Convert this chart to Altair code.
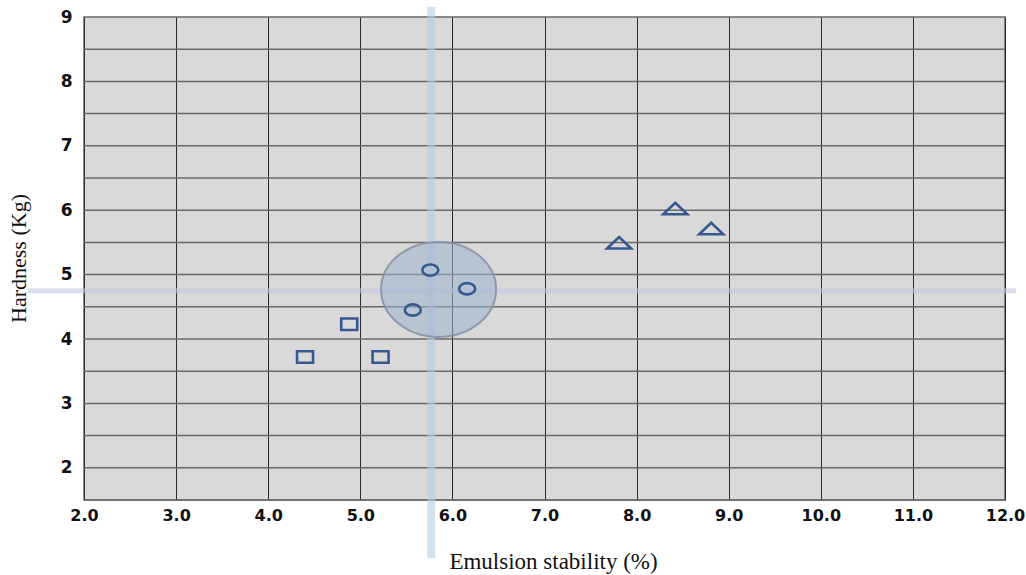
import altair as alt
import pandas as pd

# data
sq_x = [4.40, 4.88, 5.22]
sq_y = [3.72, 4.23, 3.72]
ci_x = [5.76, 6.16, 5.57]
ci_y = [5.07, 4.78, 4.45]
tr_x = [7.81, 8.42, 8.81]
tr_y = [5.49, 6.02, 5.71]
center_x = 5.85
center_y = 4.77
cross_x = 5.77
cross_y = 4.75
vband_y = [0.60, 9.16]
hband_x = [1.39, 12.12]

x_ticks = [2, 3, 4, 5, 6, 7, 8, 9, 10, 11, 12]
y_ticks = [2, 3, 4, 5, 6, 7, 8, 9]
y_grid = [1.5, 2, 2.5, 3, 3.5, 4, 4.5, 5, 5.5, 6, 6.5, 7, 7.5, 8, 8.5]

MARK = "#35598f"
SQUARE = "M -1 -0.72 L 1 -0.72 L 1 0.72 L -1 0.72 Z"
ELLIPSE = "M -1 0 A 1 0.7 0 1 0 1 0 A 1 0.7 0 1 0 -1 0 Z"
TRIANGLE = "M -1 0.45 L 0 -0.5 L 1 0.45 Z"
BIG = "M -1 0 A 1 0.826 0 1 0 1 0 A 1 0.826 0 1 0 -1 0 Z"

pts = pd.DataFrame({
    "x": sq_x + ci_x + tr_x,
    "y": sq_y + ci_y + tr_y,
    "g": ["square"] * 3 + ["circle"] * 3 + ["triangle"] * 3,
})

xs = alt.Scale(domain=[2, 12], nice=False, zero=False)
ys = alt.Scale(domain=[1.5, 9], nice=False, zero=False)

xax = alt.Axis(values=x_ticks, format=".1f", title="Emulsion stability (%)",
               grid=True, gridColor="#2b2b2b", gridWidth=1, ticks=False, domain=False,
               labelFont="DejaVu Sans", labelFontWeight="bold", labelFontSize=16,
               labelColor="#111", labelPadding=7, labelFlush=False,
               titleFont="Liberation Serif", titleFontWeight="normal", titleFontSize=23,
               titleColor="#111", titleBaseline="alphabetic", titleY=68, titleX=469)
yax = alt.Axis(values=y_ticks, format="d",
               title="Hardness (Kg)", grid=False,
               ticks=False, domain=False,
               labelFont="DejaVu Sans", labelFontWeight="bold", labelFontSize=17,
               labelColor="#111", labelPadding=12, labelFlush=False,
               titleFont="Liberation Serif", titleFontWeight="normal", titleFontSize=22,
               titleColor="#111", titleBaseline="middle", titleX=-66, titleY=241)

X = alt.X("x:Q", scale=xs, axis=xax)
Y = alt.Y("y:Q", scale=ys, axis=yax)

base = alt.Chart(pts).mark_point(opacity=0).encode(x=X, y=Y)

ygrid = alt.Chart(pd.DataFrame({"y": y_grid})).mark_rule(
    color="#6a6a6a", strokeWidth=1.5
).encode(y=Y)

vband = alt.Chart(pd.DataFrame({"x": [cross_x], "y": [vband_y[0]], "y2": [vband_y[1]]})).mark_rule(
    color="#b6cce2", strokeWidth=8, opacity=0.6, clip=False
).encode(x=X, y=Y, y2="y2:Q")

hband = alt.Chart(pd.DataFrame({"y": [cross_y], "x": [hband_x[0]], "x2": [hband_x[1]]})).mark_rule(
    color="#c4c8e4", strokeWidth=5, opacity=0.6, clip=False
).encode(y=Y, x=X, x2="x2:Q")

big = alt.Chart(pd.DataFrame({"x": [center_x], "y": [center_y]})).mark_point(
    shape=BIG, size=115 * 115, filled=True, fill="#9fb3cc", fillOpacity=0.55,
    stroke="#8593a8", strokeWidth=2, strokeOpacity=0.9, opacity=1
).encode(x=X, y=Y)

def pts_layer(g, shape, size):
    return alt.Chart(pts[pts.g == g]).mark_point(
        shape=shape, size=size, filled=False, stroke=MARK, strokeWidth=2.6, opacity=1
    ).encode(x=X, y=Y)

chart = alt.layer(
    base, ygrid, vband, hband, big,
    pts_layer("square", SQUARE, 256),
    pts_layer("circle", ELLIPSE, 256),
    pts_layer("triangle", TRIANGLE, 576),
).properties(
    width=921, height=483,
    autosize=alt.AutoSizeParams(type="none"),
    padding={"left": 84, "top": 17, "right": 21, "bottom": 75},
    background="white",
).configure_view(fill="#d9d9d9", stroke="#666666", strokeWidth=1.5)

chart.save("out.html", embed_options={"renderer": "svg", "actions": False})
